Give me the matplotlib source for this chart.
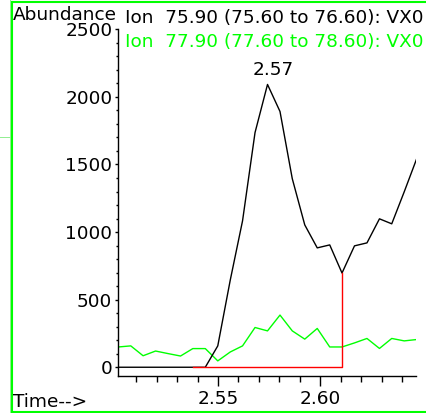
import matplotlib
matplotlib.use('Agg')
import matplotlib.pyplot as plt
from matplotlib.lines import Line2D
from matplotlib.ticker import MultipleLocator, FixedLocator

plt.rcParams['font.family'] = ['DejaVu Sans']

# scan times (min)
times = [2.5013, 2.5074, 2.5134, 2.5195, 2.5256, 2.5317, 2.5377, 2.5438,
         2.5499, 2.5560, 2.5620, 2.5681, 2.5742, 2.5803, 2.5863, 2.5924,
         2.5985, 2.6046, 2.6106, 2.6167, 2.6228, 2.6289, 2.6349, 2.6410,
         2.6471]

# extracted ion abundances
ion_75 = [0, 0, 0, 0, 0, 0, 0, 0,
          158, 645, 1083, 1736, 2092, 1892, 1395, 1053,
          883, 905, 697, 898, 920, 1098, 1061, 1298, 1543]
ion_77 = [150, 158, 85, 120, 101, 83, 138, 138,
          47, 113, 158, 294, 269, 386, 269, 208,
          287, 150, 150, 180, 213, 139, 213, 195, 205]

label_75 = 'Ion  75.90 (75.60 to 76.60): VX0'
label_77 = 'Ion  77.90 (77.60 to 78.60): VX0'
peak_label = '2.57'
peak_idx = 12
base_start, base_end = 6, 18

FS = 13.3
W, H = 426, 413
fig = plt.figure(figsize=(W / 100, H / 100), dpi=100)
ax = fig.add_axes([117.7 / W, 1 - 376.3 / H, (416.3 - 117.7) / W, (376.3 - 29.3) / H])

ax.plot(times, ion_75, color='black', lw=1.0, zorder=3)
ax.plot(times, ion_77, color='#00ff00', lw=1.0, zorder=2)
# integration baseline
ax.plot([times[base_start], times[base_end], times[base_end]],
        [0, 0, ion_75[base_end]], color='#ff0000', lw=1.0, zorder=4)

ax.annotate(peak_label, (times[peak_idx], ion_75[peak_idx]),
            xytext=(4, 4), textcoords='offset points',
            ha='center', va='bottom', fontsize=FS)

ax.set_xlim(2.5010, 2.6469)
ax.set_ylim(-67, 2500)

for s in ['top', 'right']:
    ax.spines[s].set_visible(False)
for s in ['left', 'bottom']:
    ax.spines[s].set_linewidth(1.0)

ax.yaxis.set_major_locator(MultipleLocator(500))
ax.yaxis.set_minor_locator(MultipleLocator(100))
ax.xaxis.set_major_locator(FixedLocator([2.55, 2.60]))
ax.xaxis.set_minor_locator(MultipleLocator(0.01))
ax.xaxis.set_major_formatter(plt.FuncFormatter(lambda v, p: f'{v:.2f}'))

ax.tick_params(axis='y', which='major', direction='out', length=2.4, width=1.0,
               pad=1.5, labelsize=FS)
ax.tick_params(axis='y', which='minor', direction='out', length=1.2, width=1.0)
ax.tick_params(axis='x', which='major', direction='out', length=7.2, width=1.0,
               pad=3, labelsize=FS)
ax.tick_params(axis='x', which='minor', direction='out', length=4.3, width=1.0)

fig.text(13 / W, 1 - 20 / H, 'Abundance', fontsize=FS, va='baseline', ha='left')
fig.text(125 / W, 1 - 22.7 / H, label_75, fontsize=FS, va='baseline', ha='left',
         color='black')
fig.text(125 / W, 1 - 46.7 / H, label_77, fontsize=FS, va='baseline', ha='left',
         color='#00ff00')
fig.text(13 / W, 1 - 407.3 / H, 'Time-->', fontsize=FS, va='baseline', ha='left')

# panel frame
green = '#00ff00'
fig.add_artist(Line2D([11.7 / W, 11.7 / W], [1 - 412 / H, 1 - 1.7 / H],
                      color=green, lw=1.5, transform=fig.transFigure))
fig.add_artist(Line2D([11.7 / W, 1.0], [1 - 1.7 / H, 1 - 1.7 / H],
                      color=green, lw=1.5, transform=fig.transFigure))
fig.add_artist(Line2D([11.7 / W, 1.0], [1 - 412 / H, 1 - 412 / H],
                      color=green, lw=1.5, transform=fig.transFigure))
# edge of neighbouring panel
fig.add_artist(Line2D([10 / W, 10 / W], [0, 1], color='#90ee90', lw=0.7,
                      transform=fig.transFigure))
fig.add_artist(Line2D([0, 10 / W], [1 - 137 / H, 1 - 137 / H], color='#90ee90',
                      lw=0.7, transform=fig.transFigure))

fig.savefig('out.png', dpi=100)
